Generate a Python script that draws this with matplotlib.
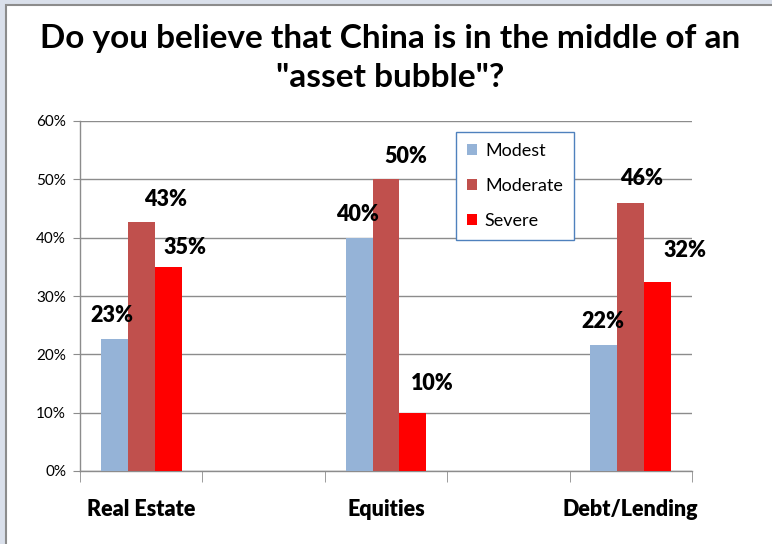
import matplotlib.pyplot as plt
import numpy as np
from matplotlib.patches import Rectangle

# survey results (share of respondents)
categories = ['Real Estate', '', 'Equities', '', 'Debt/Lending']
series_names = ['Modest', 'Moderate', 'Severe']
modest = [0.226, None, 0.40, None, 0.216]
moderate = [0.427, None, 0.501, None, 0.46]
severe = [0.349, None, 0.099, None, 0.324]
colors = ['#95B3D7', '#C0504D', '#FF0000']

# nudges for the value labels, in pixels (dx, dy above bar top)
label_nudge = {
    'Modest': [(-2, 24), None, (-2, 23), None, (-1, 23)],
    'Moderate': [(24, 22), None, (20, 22), None, (11, 24)],
    'Severe': [(17, 20), None, (19, 30), None, (27, 32)],
}

W, H = 772, 544
fig = plt.figure(figsize=(W / 100, H / 100), dpi=100)
fig.patch.set_facecolor('#DAE0EB')
fig.patches.append(Rectangle((6 / W, -0.01), 1.0, 1 - 5 / H + 0.01,
                             transform=fig.transFigure, facecolor='white',
                             edgecolor='#8C8C8C', linewidth=1.5, zorder=-5))

ax = fig.add_axes([80 / W, 1 - 471 / H, 612 / W, 350 / H])
ax.set_facecolor('none')

x = np.arange(len(categories))
bw = 0.22
all_series = [modest, moderate, severe]
for i, (name, vals, c) in enumerate(zip(series_names, all_series, colors)):
    xs = [xi + (i - 1) * bw for xi, v in zip(x, vals) if v is not None]
    ys = [v for v in vals if v is not None]
    ax.bar(xs, ys, width=bw, color=c, label=name, zorder=3)
    for k, v in enumerate(vals):
        if v is None:
            continue
        dx, dy = label_nudge[name][k]
        ax.annotate(f'{v * 100:.0f}%', (x[k] + (i - 1) * bw, v),
                    xytext=(dx, dy), textcoords='offset pixels',
                    ha='center', va='center', fontsize=15.5,
                    fontweight='heavy', family='Lato', zorder=4)

ax.set_xlim(-0.5, len(categories) - 0.5)
ax.set_ylim(0, 0.6)
ax.set_yticks(np.arange(0, 0.61, 0.1))
ax.set_yticklabels([f'{t}%' for t in range(0, 61, 10)], family='Lato',
                   fontsize=11)
ax.yaxis.grid(True, color='#8C8C8C', linewidth=1, zorder=1)
ax.set_axisbelow(True)
ax.tick_params(axis='y', length=5, color='#8C8C8C', pad=5)

# category labels in the middle, tick marks on the boundaries
ax.set_xticks(x[::2])
ax.set_xticklabels(categories[::2], fontsize=15.5, fontweight='heavy',
                   family='Lato')
ax.tick_params(axis='x', length=0, pad=20)
ax.set_xticks(np.arange(-0.5, len(categories)), minor=True)
ax.tick_params(axis='x', which='minor', length=8, color='#8C8C8C')

for s in ['top', 'right']:
    ax.spines[s].set_visible(False)
for s in ['left', 'bottom']:
    ax.spines[s].set_color('#8C8C8C')
    ax.spines[s].set_linewidth(1)

leg = ax.legend(loc='upper left', bbox_to_anchor=(376 / 612, 1 - 11 / 350),
                borderaxespad=0, prop={'family': 'Lato', 'size': 13},
                fancybox=False, handlelength=0.55, handleheight=0.55,
                handletextpad=0.45, labelspacing=1.05, borderpad=0.6,
                framealpha=1)
leg.get_frame().set_edgecolor('#4F81BD')
leg.get_frame().set_linewidth(1)

fig.text(390 / W, 1 - 58 / H,
         'Do you believe that China is in the middle of an\n"asset bubble"?',
         ha='center', va='center', fontsize=24, fontweight='bold',
         family='Lato', linespacing=1.45)

fig.savefig('out.png', dpi=100)
